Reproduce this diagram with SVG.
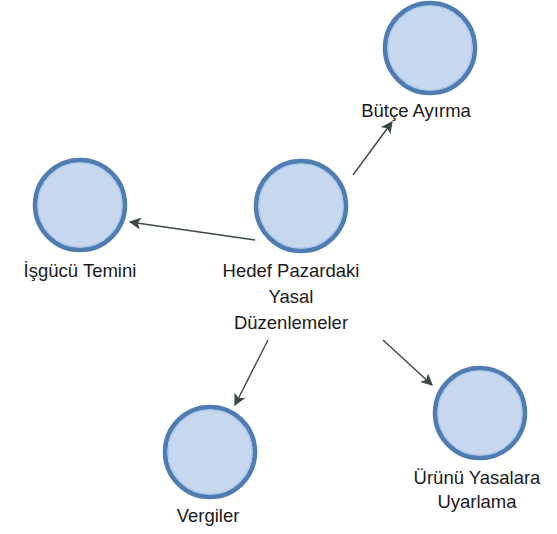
<svg xmlns="http://www.w3.org/2000/svg" width="557" height="534" viewBox="0 0 557 534">
  <defs>
    <marker id="arrow" viewBox="0 0 10 10" refX="9" refY="5" markerWidth="12" markerHeight="12" markerUnits="userSpaceOnUse" orient="auto">
      <path d="M0,0 L10,5 L0,10 L2.5,5 Z" fill="#3a4848"/>
    </marker>
  </defs>
  <style>
    .node circle.outer { fill: #c7d7ed; stroke: #4f7db2; stroke-width: 4.5; }
    .node circle.inner { fill: none; stroke: #a8c8ee; stroke-width: 1.2; }
    .label { font-family: "Liberation Sans", Arial, sans-serif; font-size: 18.5px; fill: #1a1a1a; text-anchor: middle; }
    .edge { stroke: #3a4848; stroke-width: 1.4; fill: none; marker-end: url(#arrow); }
  </style>
  <rect width="557" height="534" fill="#ffffff"/>

  <g id="connectors">
    <line class="edge" x1="255" y1="240" x2="130" y2="222"/>
    <line class="edge" x1="353" y1="175" x2="392" y2="122"/>
    <line class="edge" x1="268" y1="340" x2="235" y2="405"/>
    <line class="edge" x1="383" y1="340" x2="432" y2="385"/>
  </g>

  <g id="node-center" class="node">
    <circle class="outer" cx="301" cy="206" r="45"/>
    <circle class="inner" cx="301" cy="206" r="42"/>
    <text class="label" x="291" y="277">Hedef Pazardaki</text>
    <text class="label" x="291" y="303">Yasal</text>
    <text class="label" x="291" y="329">Düzenlemeler</text>
  </g>

  <g id="node-isgucu" class="node">
    <circle class="outer" cx="80" cy="205" r="45"/>
    <circle class="inner" cx="80" cy="205" r="42"/>
    <text class="label" x="80" y="277">İşgücü Temini</text>
  </g>

  <g id="node-butce" class="node">
    <circle class="outer" cx="430" cy="48" r="45"/>
    <circle class="inner" cx="430" cy="48" r="42"/>
    <text class="label" x="416" y="117">Bütçe Ayırma</text>
  </g>

  <g id="node-vergiler" class="node">
    <circle class="outer" cx="210" cy="452" r="45"/>
    <circle class="inner" cx="210" cy="452" r="42"/>
    <text class="label" x="208" y="522">Vergiler</text>
  </g>

  <g id="node-urunu" class="node">
    <circle class="outer" cx="480" cy="413" r="45"/>
    <circle class="inner" cx="480" cy="413" r="42"/>
    <text class="label" x="477" y="484">Ürünü Yasalara</text>
    <text class="label" x="477" y="508">Uyarlama</text>
  </g>
</svg>
